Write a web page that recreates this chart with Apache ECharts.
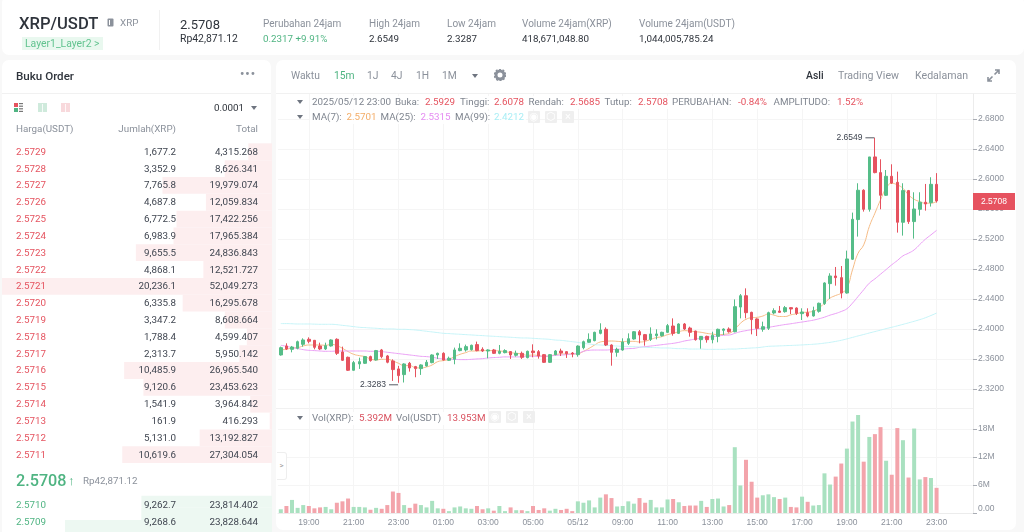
<!DOCTYPE html>
<html><head><meta charset="utf-8">
<script src="https://cdn.jsdelivr.net/npm/echarts@6/dist/echarts.min.js"></script>
<style>
html,body{margin:0;padding:0;width:1024px;height:532px;overflow:hidden;background:#f8f8f8;font-family:Roboto,"Open Sans",sans-serif;color:#3f4550}
.p{position:absolute;background:#fff;border-radius:7px}
.t{position:absolute;white-space:nowrap;line-height:12px;font-size:9.8px;z-index:5}
.g{color:#8b919b}.d{color:#2f343c}.r{color:#e5535f}.u{color:#4fb482}
#chart{position:absolute;left:0;top:0;width:1024px;height:532px;z-index:2}
.ic{position:absolute;width:12px;height:12px;background:#efefef;border-radius:1px;z-index:5;color:#fff;font-size:11px;line-height:12px;text-align:center}
.hl{position:absolute;background:#f1f1f1;z-index:1}
.strip{position:absolute;height:13px;background:rgba(255,255,255,.85);z-index:4}
.l{position:absolute;white-space:nowrap;line-height:12px;font-size:9.8px;z-index:5;color:#7f858f}
.tri{position:absolute;width:0;height:0;border-left:3px solid transparent;border-right:3px solid transparent;border-top:4px solid #6f7580;z-index:5}
</style></head><body>
<div class="p" style="left:2px;top:-4px;width:1022px;height:59px"></div>
<div class="p" style="left:2px;top:60px;width:269px;height:480px"></div>
<div class="p" style="left:276px;top:60px;width:740px;height:470px"></div>
<div class="hl" style="left:2px;top:93px;width:269px;height:1px"></div>
<div class="hl" style="left:276px;top:93px;width:740px;height:1px"></div>
<div class="hl" style="left:276px;top:408px;width:697px;height:1px"></div>
<div class="hl" style="left:159px;top:10px;width:1px;height:40px"></div>

<div class="t d" style="left:19px;top:17px;font-size:16.6px;line-height:14px;font-weight:500">XRP/USDT</div>
<svg style="position:absolute;left:107px;top:18px;z-index:5" width="7" height="9"><rect x=".5" y=".5" width="6" height="8" rx="1" fill="#8b919b"/><rect x="2" y="2" width="1" height="5" fill="#fff"/></svg>
<div class="t g" style="left:120px;top:17px">XRP</div>
<div class="t u" style="left:22px;top:37px;background:#e9f8ef;padding:0 3px;line-height:13px;color:#62c38f;font-size:10.4px">Layer1_Layer2 &gt;</div>
<div class="t d" style="left:180px;top:19px;font-size:13px">2.5708</div>
<div class="t d" style="left:180px;top:33px;font-size:10.4px">Rp42,871.12</div>
<div class="t g" style="left:263px;top:18px;font-size:10px">Perubahan 24jam</div>
<div class="t u" style="left:263px;top:33px">0.2317 +9.91%</div>
<div class="t g" style="left:369px;top:18px;font-size:10px">High 24jam</div>
<div class="t d" style="left:369px;top:33px">2.6549</div>
<div class="t g" style="left:447px;top:18px;font-size:10px">Low 24jam</div>
<div class="t d" style="left:447px;top:33px">2.3287</div>
<div class="t g" style="left:522px;top:18px;font-size:10px">Volume 24jam(XRP)</div>
<div class="t d" style="left:522px;top:33px">418,671,048.80</div>
<div class="t g" style="left:639px;top:18px;font-size:10px">Volume 24jam(USDT)</div>
<div class="t d" style="left:639px;top:33px">1,044,005,785.24</div>

<div class="t d" style="left:16px;top:70px;font-size:11.6px;font-weight:500">Buku Order</div>
<div class="t g" style="left:240px;top:68px;font-size:12px;letter-spacing:1px;font-weight:700">•••</div>
<svg style="position:absolute;left:14px;top:103px;z-index:5" width="70" height="10">
<g fill="#e5535f"><rect y="0" width="4" height="4"/></g><g fill="#4fb482"><rect y="5" width="4" height="4"/></g><g fill="#777"><rect x="5" y="0" width="4" height="1.2"/><rect x="5" y="2.6" width="4" height="1.2"/><rect x="5" y="5.2" width="4" height="1.2"/><rect x="5" y="7.8" width="4" height="1.2"/></g>
<g fill="#cfeadc"><rect x="24" width="9" height="9"/></g><g fill="#fff"><rect x="28" y="1" width=".8" height="8"/></g>
<g fill="#f8d9dc"><rect x="47" width="9" height="9"/></g><g fill="#fff"><rect x="51" y="1" width=".8" height="8"/></g></svg>
<div class="t d" style="left:214px;top:102px">0.0001</div>
<div class="tri" style="left:251px;top:106px"></div>
<div class="t g" style="left:16px;top:123px">Harga(USDT)</div>
<div class="t g" style="right:848px;top:123px">Jumlah(XRP)</div>
<div class="t g" style="right:766px;top:123px">Total</div>
<div class="t u" style="left:16px;top:475px;font-size:16.2px;font-weight:500">2.5708</div>
<div class="t u" style="left:68px;top:475px;font-size:13px">↑</div>
<div class="t g" style="left:83px;top:475px;font-size:9.8px">Rp42,871.12</div>
<div id="book"></div>

<div class="t g" style="left:291px;top:70px;font-size:10.3px">Waktu</div>
<div class="t u" style="left:334px;top:70px;font-size:10.3px">15m</div>
<div class="t g" style="left:367px;top:70px;font-size:10.3px">1J</div>
<div class="t g" style="left:391px;top:70px;font-size:10.3px">4J</div>
<div class="t g" style="left:416px;top:70px;font-size:10.3px">1H</div>
<div class="t g" style="left:442px;top:70px;font-size:10.3px">1M</div>
<div class="tri" style="left:472px;top:74px"></div>
<svg style="position:absolute;left:494px;top:69px;z-index:5" width="12" height="12"><circle cx="6" cy="6" r="4" fill="none" stroke="#8b919b" stroke-width="3"/><circle cx="6" cy="6" r="5.7" fill="none" stroke="#8b919b" stroke-width="1.2" stroke-dasharray="2 1.6"/></svg>
<div class="t d" style="left:806px;top:70px;font-size:10.4px;font-weight:500">Asli</div>
<div class="t g" style="left:838px;top:70px;font-size:10.6px">Trading View</div>
<div class="t g" style="left:915px;top:70px;font-size:10.6px">Kedalaman</div>
<svg style="position:absolute;left:987px;top:69px;z-index:5" width="13" height="13" fill="none" stroke="#8b919b" stroke-width="1.6"><path d="M8 1h4v4M12 1L7.5 5.5M5 12H1V8M1 12l4.5-4.5"/></svg>

<div class="tri" style="left:297px;top:100px"></div>
<div class="strip" style="left:310px;top:96px;width:556px"></div>
<div id="legend"></div>
<div class="tri" style="left:297px;top:115px"></div>
<div class="strip" style="left:310px;top:111px;width:216px"></div>
<div class="ic" style="left:528px;top:111px">◉</div><div class="ic" style="left:545px;top:111px">⬡</div><div class="ic" style="left:562px;top:111px">×</div>
<div class="tri" style="left:297px;top:416px"></div>
<div class="strip" style="left:310px;top:412px;width:176px"></div>
<div class="ic" style="left:489px;top:411px">◉</div><div class="ic" style="left:506px;top:411px">⬡</div><div class="ic" style="left:523px;top:411px">×</div>
<div style="position:absolute;left:277px;top:452px;width:9px;height:26px;background:#fff;border:1px solid #eee;border-left:0;border-radius:0 3px 3px 0;z-index:5;color:#999;font-size:8px;line-height:26px;text-align:center">&gt;</div>

<div id="chart"></div>
<script>
const categories = ['17:45','18:00','18:15','18:30','18:45','19:00','19:15','19:30','19:45','20:00','20:15','20:30','20:45','21:00','21:15','21:30','21:45','22:00','22:15','22:30','22:45','23:00','23:15','23:30','23:45','00:00','00:15','00:30','00:45','01:00','01:15','01:30','01:45','02:00','02:15','02:30','02:45','03:00','03:15','03:30','03:45','04:00','04:15','04:30','04:45','05:00','05:15','05:30','05:45','06:00','06:15','06:30','06:45','05/12','07:15','07:30','07:45','08:00','08:15','08:30','08:45','09:00','09:15','09:30','09:45','10:00','10:15','10:30','10:45','11:00','11:15','11:30','11:45','12:00','12:15','12:30','12:45','13:00','13:15','13:30','13:45','14:00','14:15','14:30','14:45','15:00','15:15','15:30','15:45','16:00','16:15','16:30','16:45','17:00','17:15','17:30','17:45','18:00','18:15','18:30','18:45','19:00','19:15','19:30','19:45','20:00','20:15','20:30','20:45','21:00','21:15','21:30','21:45','22:00','22:15','22:30','22:45','23:00','','','','','',''];
const opens = [2.3654,2.3774,2.3729,2.3743,2.3796,2.3863,2.3849,2.3774,2.3734,2.3774,2.3863,2.3694,2.3623,2.3450,2.3534,2.3543,2.3632,2.3587,2.3721,2.3641,2.3574,2.3468,2.3392,2.3543,2.3499,2.3472,2.3508,2.3552,2.3654,2.3676,2.3583,2.3597,2.3712,2.3721,2.3725,2.3792,2.3730,2.3707,2.3721,2.3676,2.3685,2.3699,2.3650,2.3676,
2.3618,2.3707,2.3698,2.3658,2.3556,2.3658,2.3707,2.3698,2.3680,2.3658,2.3751,2.3823,2.3845,2.3942,2.3996,2.3787,2.3689,2.3720,2.3809,2.3867,2.3964,2.3925,2.3862,2.3911,2.3911,2.3956,2.4040,2.3942,2.4067,2.4013,2.3973,2.3858,2.3902,2.3858,2.3902,2.3982,2.4000,2.3964,2.4293,2.4444,2.4222,2.4134,2.3996,2.4009,
2.4214,2.4240,2.4231,2.4285,2.4280,2.4205,2.4218,2.4174,2.4236,2.4339,2.4605,2.4707,2.4685,2.4480,2.4930,2.5459,2.5850,2.5596,2.6294,2.6085,2.5783,2.6036,2.5956,2.5423,2.5845,2.5432,2.5596,2.5690,2.5685,2.5929];
const closes = [2.3751,2.3734,2.3760,2.3831,2.3854,2.3836,2.3756,2.3734,2.3778,2.3854,2.3676,2.3583,2.3450,2.3552,2.3565,2.3632,2.3579,2.3712,2.3632,2.3557,2.3459,2.3379,2.3534,2.3481,2.3472,2.3521,2.3557,2.3654,2.3676,2.3587,2.3610,2.3721,2.3743,2.3765,2.3783,2.3712,2.3707,2.3721,2.3676,2.3703,2.3712,2.3654,2.3676,2.3623,
2.3703,2.3685,2.3640,2.3556,2.3658,2.3707,2.3680,2.3671,2.3667,2.3773,2.3831,2.3862,2.3956,2.3987,2.3787,2.3689,2.3729,2.3827,2.3871,2.3964,2.3920,2.3853,2.3934,2.3934,2.3956,2.4045,2.3942,2.4067,2.4000,2.3956,2.3858,2.3902,2.3858,2.3916,2.3996,2.4000,2.3964,2.4298,2.4444,2.4218,2.4125,2.4009,2.4031,2.4218,
2.4245,2.4222,2.4285,2.4267,2.4209,2.4227,2.4174,2.4245,2.4343,2.4614,2.4707,2.4685,2.4480,2.4934,2.5463,2.5850,2.5596,2.6294,2.6085,2.5783,2.6036,2.5947,2.5423,2.5845,2.5432,2.5600,2.5690,2.5667,2.5929,2.5708];
const lows = [2.3645,2.3720,2.3689,2.3729,2.3765,2.3809,2.3729,2.3720,2.3720,2.3765,2.3654,2.3574,2.3441,2.3445,2.3468,2.3534,2.3565,2.3579,2.3610,2.3543,2.3308,2.3283,2.3287,2.3432,2.3357,2.3388,2.3499,2.3543,2.3601,2.3579,2.3574,2.3530,2.3703,2.3699,2.3712,2.3703,2.3694,2.3610,2.3667,2.3663,2.3676,2.3601,2.3632,2.3601,
2.3609,2.3623,2.3605,2.3547,2.3547,2.3649,2.3640,2.3614,2.3623,2.3631,2.3729,2.3818,2.3836,2.3929,2.3773,2.3511,2.3631,2.3711,2.3787,2.3858,2.3809,2.3778,2.3840,2.3862,2.3898,2.3947,2.3911,2.3933,2.3987,2.3898,2.3845,2.3738,2.3818,2.3809,2.3823,2.3920,2.3951,2.3956,2.4142,2.4142,2.3929,2.3907,2.3964,2.3987,
2.4196,2.4218,2.4218,2.4200,2.4187,2.4120,2.4156,2.4165,2.4218,2.4321,2.4401,2.4578,2.4409,2.4472,2.4921,2.5232,2.5565,2.5565,2.6076,2.5596,2.5774,2.5934,2.5285,2.5245,2.5401,2.5205,2.5512,2.5578,2.5632,2.5685];
const highs = [2.3765,2.3809,2.3774,2.3845,2.3876,2.3889,2.3854,2.3818,2.3818,2.3863,2.3876,2.3765,2.3632,2.3574,2.3618,2.3641,2.3645,2.3721,2.3734,2.3654,2.3596,2.3508,2.3543,2.3561,2.3508,2.3530,2.3587,2.3663,2.3685,2.3690,2.3632,2.3752,2.3809,2.3792,2.3792,2.3832,2.3756,2.3730,2.3734,2.3787,2.3730,2.3707,2.3712,2.3699,
2.3712,2.3796,2.3720,2.3667,2.3667,2.3720,2.3738,2.3702,2.3693,2.3782,2.3845,2.3942,2.3964,2.4076,2.4022,2.3796,2.3751,2.3876,2.3942,2.3973,2.3987,2.3934,2.4022,2.3996,2.3964,2.4067,2.4142,2.4076,2.4080,2.4031,2.3978,2.3907,2.3911,2.3964,2.4005,2.4009,2.4022,2.4395,2.4466,2.4542,2.4231,2.4142,2.4098,2.4231,
2.4276,2.4307,2.4307,2.4289,2.4289,2.4276,2.4276,2.4298,2.4352,2.4623,2.4743,2.4827,2.4840,2.5045,2.5552,2.5943,2.5863,2.6294,2.6549,2.6263,2.6120,2.6196,2.6098,2.5943,2.5854,2.5823,2.5823,2.5934,2.6023,2.6078];
const ma7 = [2.3721,2.3730,2.3747,2.3752,2.3774,2.3787,2.3787,2.3787,2.3783,2.3796,2.3778,2.3743,2.3699,2.3663,2.3645,2.3632,2.3601,2.3587,2.3596,2.3596,2.3574,2.3543,2.3512,2.3512,2.3485,2.3481,2.3494,2.3521,2.3565,2.3579,2.3596,2.3632,2.3663,2.3685,2.3707,2.3707,2.3712,2.3712,2.3712,2.3707,2.3699,2.3685,2.3676,2.3667,
2.3649,2.3653,2.3645,2.3636,2.3640,2.3658,2.3667,2.3667,2.3667,2.3671,2.3702,2.3742,2.3787,2.3827,2.3836,2.3840,2.3836,2.3831,2.3836,2.3836,2.3827,2.3836,2.3862,2.3885,2.3898,2.3925,2.3942,2.3964,2.3978,2.3973,2.3964,2.3956,2.3942,2.3933,2.3925,2.3929,2.3942,2.3996,2.4076,2.4129,2.4151,2.4156,2.4173,2.4200,
2.4185,2.4167,2.4167,2.4189,2.4203,2.4221,2.4225,2.4238,2.4278,2.4345,2.4412,2.4447,2.4478,2.4545,2.4789,2.5011,2.5122,2.5366,2.5544,2.5721,2.5876,2.5943,2.5921,2.5876,2.5788,2.5730,2.5699,2.5677,2.5677,2.5701];
const ma25 = [2.3783,2.3770,2.3752,2.3739,2.3725,2.3716,2.3712,2.3707,2.3703,2.3703,2.3707,2.3707,2.3707,2.3707,2.3707,2.3707,2.3703,2.3703,2.3699,2.3690,2.3681,2.3672,2.3663,2.3654,2.3645,2.3636,2.3632,2.3623,2.3610,2.3601,2.3596,2.3596,2.3592,2.3592,2.3596,2.3601,2.3605,2.3614,2.3619,2.3623,2.3628,2.3628,2.3628,2.3628,
2.3636,2.3636,2.3636,2.3636,2.3640,2.3649,2.3653,2.3658,2.3667,2.3676,2.3702,2.3716,2.3720,2.3720,2.3720,2.3725,2.3729,2.3733,2.3738,2.3742,2.3756,2.3765,2.3773,2.3782,2.3791,2.3800,2.3809,2.3822,2.3840,2.3853,2.3867,2.3876,2.3889,2.3898,2.3907,2.3916,2.3920,2.3942,2.3964,2.3978,2.3991,2.4000,2.4009,2.4022,
2.4035,2.4048,2.4060,2.4070,2.4082,2.4093,2.4105,2.4118,2.4136,2.4158,2.4185,2.4207,2.4234,2.4270,2.4345,2.4434,2.4523,2.4611,2.4669,2.4731,2.4793,2.4856,2.4913,2.4975,2.5011,2.5055,2.5126,2.5197,2.5255,2.5315];
const ma99 = [2.4072,2.4072,2.4070,2.4067,2.4067,2.4067,2.4065,2.4063,2.4063,2.4063,2.4058,2.4049,2.4041,2.4032,2.4023,2.4019,2.4014,2.4010,2.4005,2.4001,2.4001,2.3996,2.3996,2.3992,2.3987,2.3979,2.3970,2.3961,2.3952,2.3943,2.3939,2.3934,2.3930,2.3925,2.3921,2.3916,2.3912,2.3907,2.3903,2.3898,2.3894,2.3890,2.3885,2.3881,
2.3880,2.3876,2.3871,2.3867,2.3862,2.3853,2.3849,2.3840,2.3831,2.3822,2.3809,2.3800,2.3791,2.3787,2.3782,2.3778,2.3773,2.3769,2.3765,2.3764,2.3760,2.3756,2.3753,2.3751,2.3747,2.3747,2.3742,2.3738,2.3738,2.3733,2.3733,2.3733,2.3729,2.3729,2.3729,2.3729,2.3733,2.3733,2.3738,2.3742,2.3747,2.3751,2.3760,2.3769,
2.3772,2.3775,2.3778,2.3781,2.3784,2.3788,2.3792,2.3797,2.3803,2.3812,2.3822,2.3835,2.3850,2.3868,2.3888,2.3908,2.3927,2.3947,2.3966,2.3985,2.4005,2.4023,2.4042,2.4062,2.4082,2.4103,2.4125,2.4150,2.4180,2.4212];
const volumes = [0.8,1.5,2.8,1.1,1.7,1.5,1.0,1.2,1.3,0.8,2.2,2.5,3.1,1.3,1.3,1.2,0.7,1.1,0.9,1.7,4.6,4.3,1.7,1.1,2.0,1.7,1.2,2.6,1.0,0.9,0.4,1.2,1.4,1.0,0.9,1.5,0.8,1.0,0.5,1.5,0.4,1.2,0.6,0.6,
0.4,1.5,0.65,1.0,0.5,0.9,0.65,0.9,0.4,2.5,2.2,2.7,1.2,3.3,4.0,3.2,1.4,1.5,2.5,2.0,3.2,2.2,2.8,1.2,1.2,2.9,3.0,2.3,1.5,1.6,1.6,2.6,1.3,3.0,3.1,1.4,1.7,14.1,5.9,11.4,6.7,3.3,3.8,4.0,
3.4,3.0,3.3,1.3,1.2,3.5,2.4,1.6,1.7,8.5,6.1,7.8,10.6,13.8,19.6,21.0,11.0,16.3,16.9,18.4,11.2,8.2,18.2,15.6,7.6,18.1,7.2,7.7,7.5,5.392];
const priceTicks = [2.32,2.36,2.40,2.44,2.48,2.52,2.56,2.60,2.64,2.68];
const volumeTicks = [0,6,12,18];
const lastPrice = 2.5708, highPrice = 2.6549, lowPrice = 2.3283;
const askPrices = ['2.5729','2.5728','2.5727','2.5726','2.5725','2.5724','2.5723','2.5722','2.5721','2.5720','2.5719','2.5718','2.5717','2.5716','2.5715','2.5714','2.5713','2.5712','2.5711'];
const askAmounts = [1677.2,3352.9,7765.8,4687.8,6772.5,6983.9,9655.5,4868.1,20236.1,6335.8,3347.2,1788.4,2313.7,10485.9,9120.6,1541.9,161.9,5131.0,10619.6];
const askTotals = [4315.268,8626.341,19979.074,12059.834,17422.256,17965.384,24836.843,12521.727,52049.273,16295.678,8608.664,4599.407,5950.142,26965.540,23453.623,3964.842,416.293,13192.827,27304.054];
const bidPrices = ['2.5710','2.5709'];
const bidAmounts = [9262.7,9268.6,14680];
const bidTotals = [23814.402,23828.644];
const legendTexts = [
 [312,102,'2025/05/12 23:00',0],[395,102,'Buka:',0],[425,102,'2.5929',1],[460,102,'Tinggi:',0],[494,102,'2.6078',1],[528.5,102,'Rendah:',0],[570,102,'2.5685',1],[604.5,102,'Tutup:',0],[638,102,'2.5708',1],[672,102,'PERUBAHAN:',0],[738,102,'-0.84%',1],[773.5,102,'AMPLITUDO:',0],[837,102,'1.52%',1],
 [312,117,'MA(7):',0],[346.5,117,'2.5701','#f3ad68'],[380.5,117,'MA(25):',0],[420.5,117,'2.5315','#e58cf2'],[455,117,'MA(99):',0],[494,117,'2.4212','#a9eef5'],
 [312,418,'Vol(XRP):',0],[359,418,'5.392M','#d9505e'],[396,418,'Vol(USDT)',0],[447,418,'13.953M','#d9505e']];
const C = {up:'#55bd88',down:'#e6525f',upV:'#a9e1c0',downV:'#f3a4ab',grid:'#f5f5f5',axis:'#ececec',label:'#8b919b',m7:'#f5bb85',m25:'#ea9ff5',m99:'#c6f4f8'};

document.getElementById('legend').innerHTML=legendTexts.map(([x,y,s,c])=>`<div class="l" style="left:${x}px;top:${y-6}px;${c?'color:'+(c===1?'#e5535f':c):''}">${s}</div>`).join('');
const fmt=(v,d)=>v.toLocaleString('en-US',{minimumFractionDigits:d,maximumFractionDigits:d});
function rows(prices,amts,tots,y0,cls){return prices.map((p,i)=>{const y=y0+i*16.83-6;
 return `<div class="t ${cls}" style="left:16px;top:${y}px">${p}</div><div class="t" style="right:848px;top:${y}px">${fmt(amts[i],1)}</div><div class="t" style="right:766px;top:${y}px">${fmt(tots[i],3)}</div>`}).join('')}
document.getElementById('book').innerHTML=rows(askPrices,askAmounts,askTotals,151.7,'r')+rows(bidPrices,bidAmounts,bidTotals,504.7,'u');

const candleData = opens.map((o,i)=>[o,closes[i],lows[i],highs[i]]);
const volData = volumes.map((v,i)=>({value:v,itemStyle:{color:closes[i]>=opens[i]?C.upV:C.downV}}));
const onTick = i => i>=5 && i<118 && (i-5)%8===0;
const line=(name,d,color)=>({name,type:'line',data:d,xAxisIndex:0,yAxisIndex:0,showSymbol:false,smooth:true,silent:true,z:3,lineStyle:{color,width:1},itemStyle:{color}});
const chart = echarts.init(document.getElementById('chart'),null,{width:1024,height:532});
chart.setOption({
 animation:false,backgroundColor:'transparent',
 textStyle:{fontFamily:'"Liberation Sans",Arial,sans-serif'},
 grid:[{left:278,width:695,top:94,height:314},{left:278,width:695,top:408,height:105},{left:2,width:270,top:143.3,height:319.8},{left:2,width:270,top:495.7,height:50.5}],
 xAxis:[
  {type:'category',gridIndex:0,data:categories,axisLine:{show:false},axisTick:{show:false},axisLabel:{show:false},splitLine:{show:true,interval:onTick,alignWithLabel:true,lineStyle:{color:C.grid}}},
  {type:'category',gridIndex:1,data:categories,axisLine:{lineStyle:{color:C.axis}},axisTick:{interval:onTick,alignWithLabel:true,length:4,lineStyle:{color:'#a9adb4'}},axisLabel:{interval:onTick,hideOverlap:false,color:C.label,fontSize:8.5,margin:5},splitLine:{show:true,interval:onTick,alignWithLabel:true,lineStyle:{color:C.grid}}},
  {type:'value',gridIndex:2,inverse:true,min:0,max:19149,show:false},
  {type:'value',gridIndex:3,inverse:true,min:0,max:19149,show:false}
 ],
 yAxis:[
  {type:'value',gridIndex:0,position:'right',min:2.2947,max:2.7133,scale:true,axisLine:{show:true,lineStyle:{color:C.axis}},axisTick:{show:true,customValues:priceTicks,length:4,lineStyle:{color:'#a9adb4'}},axisLabel:{customValues:priceTicks,color:C.label,fontSize:8.5,margin:5,formatter:v=>v.toFixed(4)},splitLine:{show:true,lineStyle:{color:C.grid}}},
  {type:'value',gridIndex:1,position:'right',min:0,max:22.5,axisLine:{show:true,lineStyle:{color:C.axis}},axisTick:{show:true,customValues:volumeTicks,length:4,lineStyle:{color:'#a9adb4'}},axisLabel:{customValues:volumeTicks,color:C.label,fontSize:8.5,margin:5,verticalAlignMinLabel:'bottom',formatter:v=>v===0?'0.00':v+'M'},splitLine:{show:true,lineStyle:{color:C.grid}}},
  {type:'category',gridIndex:2,inverse:true,data:askPrices,show:false},
  {type:'category',gridIndex:3,inverse:true,data:['a','b','c'],show:false}
 ],
 series:[
  {type:'bar',xAxisIndex:2,yAxisIndex:2,data:askAmounts,barWidth:'100%',silent:true,itemStyle:{color:'#fdeeef'},z:1},
  {type:'bar',xAxisIndex:3,yAxisIndex:3,data:bidAmounts,barWidth:'100%',silent:true,itemStyle:{color:'#edf8f2'},z:1},
  {name:'K',type:'candlestick',xAxisIndex:0,yAxisIndex:0,data:candleData,barWidth:3,z:4,
   itemStyle:{color:C.up,color0:C.down,borderColor:C.up,borderColor0:C.down,borderWidth:1},
   markPoint:{silent:true,symbol:'rect',symbolSize:[9,1],itemStyle:{color:'#555a63'},
    label:{position:'left',distance:3,color:'#3f4550',fontSize:8.5,formatter:p=>p.value.toFixed(4)},
    data:[{coord:[106,highPrice],value:highPrice,symbolOffset:[-5,0]},{coord:[21,lowPrice],value:lowPrice,symbolOffset:[-5,2]}]},
   markLine:{silent:true,symbol:'none',lineStyle:{color:'rgba(0,0,0,0)',width:0,opacity:1},
    label:{show:true,position:'end',distance:0,opacity:1,formatter:()=>lastPrice.toFixed(4),color:'#fff',backgroundColor:C.down,fontSize:8.5,padding:[4,8,4,8]},
    data:[{yAxis:lastPrice}]}},
  line('MA7',ma7,C.m7),line('MA25',ma25,C.m25),line('MA99',ma99,C.m99),
  {type:'bar',xAxisIndex:1,yAxisIndex:1,data:volData,barWidth:4,silent:true}
 ]
});
</script>
</body></html>
